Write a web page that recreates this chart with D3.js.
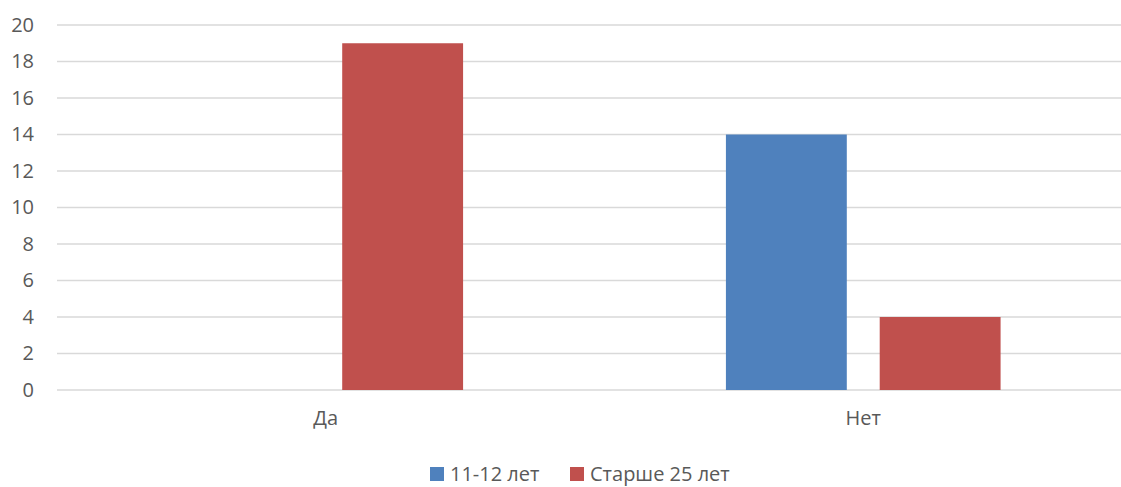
<!DOCTYPE html>
<html>
<head>
<meta charset="utf-8">
<script src="https://cdn.jsdelivr.net/npm/d3@7"></script>
<style>
  body { margin: 0; background: #fff; }
  text { font-family: "Open Sans", sans-serif; fill: #595959; }
</style>
</head>
<body>
<script>
var w = 1121, h = 487;
var margin = {top: 25, left: 57, right: -11, bottom: 97};

var categories = ['Да', 'Нет'];
var series = ['11-12 лет', 'Старше 25 лет'];
var colors = ['#4F81BD', '#C0504D'];
var young = [0, 14];
var older = [19, 4];
var yTicks = [0, 2, 4, 6, 8, 10, 12, 14, 16, 18, 20];

var values = [young, older];

var svg = d3.select('body').append('svg')
    .attr('width', w)
    .attr('height', h)

var x0 = d3.scaleBand()
    .domain(categories)
    .range([margin.left, w - margin.right])
    .paddingInner(0.489)
    .paddingOuter(0.2445)

var x1 = d3.scaleBand()
    .domain(series)
    .range([0, x0.bandwidth()])
    .paddingInner(0.214)

var y = d3.scaleLinear()
    .domain([0, 20])
    .range([h - margin.bottom, margin.top])

// gridlines
svg.append('g')
    .selectAll('line')
    .data(yTicks)
    .enter().append('line')
    .attr('x1', margin.left)
    .attr('x2', w)
    .attr('y1', function(d) { return y(d) })
    .attr('y2', function(d) { return y(d) })
    .attr('stroke', '#d9d9d9')
    .attr('stroke-width', 1.5)

// y labels
var yAxis = svg.append('g')
    .attr('transform', 'translate(' + (margin.left - 23) + ',0)')
    .call(d3.axisLeft(y).tickValues(yTicks).tickSize(0).tickPadding(0))
yAxis.select('.domain').remove()
yAxis.selectAll('text')
    .style('font-size', '20px')
    .attr('fill', '#595959')

// bars
series.forEach(function(s, i) {
    svg.append('g')
        .selectAll('rect')
        .data(values[i])
        .enter().append('rect')
        .attr('x', function(d, j) { return x0(categories[j]) + x1(s) })
        .attr('width', x1.bandwidth())
        .attr('y', function(d) { return y(d) })
        .attr('height', function(d) { return y(0) - y(d) })
        .attr('fill', colors[i])
})

// x labels
var xAxis = svg.append('g')
    .attr('transform', 'translate(0,' + (h - margin.bottom) + ')')
    .call(d3.axisBottom(x0).tickSize(0).tickPadding(21))
xAxis.select('.domain').remove()
xAxis.selectAll('text')
    .style('font-size', '20px')
    .attr('fill', '#595959')

// legend
var legendX = [430, 570];
var legend = svg.append('g')
    .selectAll('g')
    .data(series)
    .enter().append('g')
    .attr('transform', function(d, i) { return 'translate(' + legendX[i] + ',467)' })

legend.append('rect')
    .attr('width', 14)
    .attr('height', 14)
    .attr('fill', function(d, i) { return colors[i] })

legend.append('text')
    .attr('x', 20)
    .attr('y', 14)
    .style('font-size', '20px')
    .text(function(d) { return d })
</script>
</body>
</html>
